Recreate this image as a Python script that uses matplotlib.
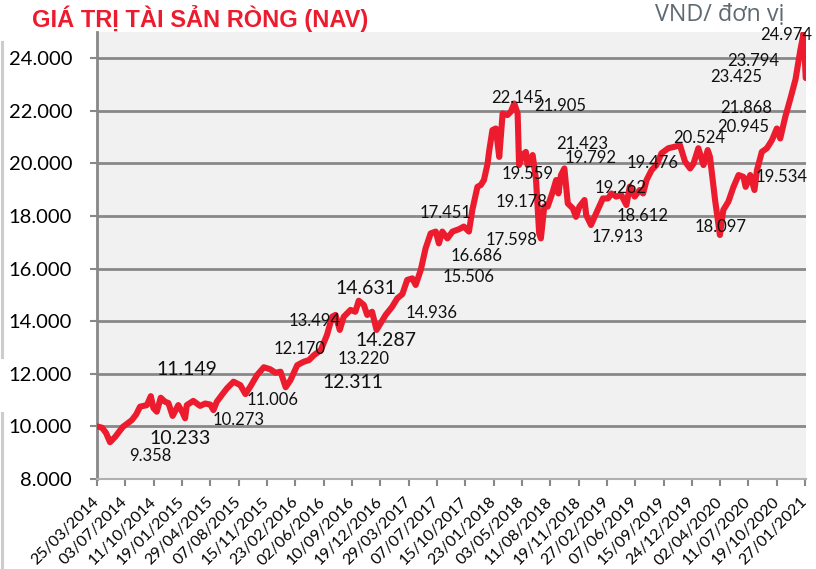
import matplotlib
matplotlib.use("Agg")
import matplotlib.pyplot as plt
import matplotlib.ticker as mticker
import pandas as pd
from matplotlib.lines import Line2D

# NAV mỗi chứng chỉ quỹ (VND)
nav_dates = [
    "2014-03-25", "2014-04-12", "2014-04-26", "2014-05-10", "2014-05-28", "2014-06-11", "2014-06-25", "2014-07-09", "2014-07-26", "2014-08-10",
    "2014-08-24", "2014-09-17", "2014-10-01", "2014-10-10", "2014-10-22", "2014-11-05", "2014-11-20", "2014-12-02", "2014-12-17", "2015-01-06",
    "2015-01-20", "2015-01-30", "2015-02-05", "2015-02-28", "2015-03-24", "2015-04-11", "2015-04-29", "2015-05-10", "2015-05-22", "2015-06-09",
    "2015-06-27", "2015-07-20", "2015-08-13", "2015-08-31", "2015-09-17", "2015-10-11", "2015-11-04", "2015-11-27", "2015-12-15", "2016-01-02",
    "2016-01-20", "2016-02-06", "2016-03-01", "2016-03-24", "2016-04-11", "2016-04-29", "2016-05-23", "2016-06-14", "2016-07-02", "2016-07-14",
    "2016-07-29", "2016-08-12", "2016-09-05", "2016-09-22", "2016-10-04", "2016-10-22", "2016-11-03", "2016-11-20", "2016-12-06", "2016-12-20",
    "2017-01-07", "2017-01-30", "2017-02-17", "2017-03-07", "2017-03-24", "2017-04-11", "2017-04-23", "2017-05-11", "2017-05-28", "2017-06-15",
    "2017-07-03", "2017-07-14", "2017-07-26", "2017-08-13", "2017-08-31", "2017-09-23", "2017-10-10", "2017-10-28", "2017-11-09", "2017-11-27",
    "2017-12-09", "2017-12-20", "2018-01-02", "2018-01-07", "2018-01-19", "2018-01-31", "2018-02-12", "2018-02-24", "2018-03-13", "2018-03-25",
    "2018-04-06", "2018-04-18", "2018-04-23", "2018-05-05", "2018-05-17", "2018-05-23", "2018-06-10", "2018-06-22", "2018-07-03", "2018-07-09",
    "2018-07-21", "2018-08-02", "2018-08-20", "2018-09-01", "2018-09-09", "2018-09-18", "2018-09-30", "2018-10-12", "2018-10-30", "2018-11-10",
    "2018-11-22", "2018-12-10", "2018-12-16", "2019-01-02", "2019-01-20", "2019-02-13", "2019-03-03", "2019-03-15", "2019-04-01", "2019-04-19",
    "2019-05-07", "2019-05-19", "2019-06-05", "2019-06-23", "2019-07-05", "2019-07-17", "2019-08-04", "2019-08-21", "2019-09-08", "2019-10-02",
    "2019-10-26", "2019-11-12", "2019-11-30", "2019-12-18", "2019-12-30", "2020-01-16", "2020-02-03", "2020-02-18", "2020-02-26", "2020-03-15",
    "2020-04-01", "2020-04-13", "2020-05-01", "2020-05-19", "2020-06-06", "2020-06-23", "2020-07-01", "2020-07-17", "2020-08-01", "2020-08-10",
    "2020-08-27", "2020-09-14", "2020-10-02", "2020-10-19", "2020-10-31", "2020-11-18", "2020-12-06", "2020-12-24", "2021-01-10", "2021-01-22",
    "2021-01-29",
]
nav_values = [
    10000, 9950, 9750, 9400, 9600, 9800, 9990, 10100, 10240, 10450,
    10750, 10810, 11150, 10700, 10560, 11090, 10940, 10890, 10400, 10810,
    10550, 10310, 10810, 10970, 10780, 10870, 10830, 10620, 10940, 11200,
    11450, 11700, 11570, 11230, 11510, 11950, 12250, 12170, 12040, 12080,
    11490, 11760, 12330, 12460, 12520, 12710, 12900, 13480, 14170, 14240,
    13670, 14170, 14430, 14360, 14780, 14620, 14240, 14360, 13670, 13920,
    14240, 14550, 14870, 15030, 15570, 15630, 15380, 15950, 16770, 17340,
    17410, 16960, 17410, 17150, 17410, 17500, 17600, 17410, 18230, 19110,
    19180, 19370, 20000, 20440, 21270, 21330, 20250, 21900, 21840, 21970,
    22280, 21900, 19940, 20320, 20440, 19940, 20320, 19370, 17340, 17150,
    18360, 18360, 18930, 19370, 18860, 19560, 19810, 18480, 18290, 17970,
    18360, 18610, 18040, 17660, 18100, 18670, 18670, 18860, 18740, 18800,
    18420, 19120, 18740, 18990, 18860, 19370, 19750, 19940, 20390, 20580,
    20640, 20700, 20070, 19810, 20000, 20580, 19940, 20510, 20250, 18610,
    17280, 18230, 18550, 19110, 19560, 19490, 19110, 19560, 18990, 19750,
    20440, 20580, 20890, 21330, 20950, 21780, 22470, 23200, 24310, 24970,
    23250,
]

tick_labels = [
    "25/03/2014", "03/07/2014", "11/10/2014", "19/01/2015", "29/04/2015", "07/08/2015",
    "15/11/2015", "23/02/2016", "02/06/2016", "10/09/2016", "19/12/2016", "29/03/2017",
    "07/07/2017", "15/10/2017", "23/01/2018", "03/05/2018", "11/08/2018", "19/11/2018",
    "27/02/2019", "07/06/2019", "15/09/2019", "24/12/2019", "02/04/2020", "11/07/2020",
    "19/10/2020", "27/01/2021",
]

# nhãn dữ liệu
label_texts = [
    "9.358", "10.233", "11.149", "10.273", "11.006", "12.170", "13.494", "12.311",
    "13.220", "14.287", "14.631", "14.936", "17.451", "16.686", "15.506", "17.598",
    "19.178", "19.559", "22.145", "21.905", "21.423", "19.792", "19.476", "19.262",
    "18.612", "17.913", "20.524", "18.097", "19.534", "21.868", "20.945", "24.974",
    "23.794", "23.425",
]
big_labels = {"10.233", "11.149", "12.311", "14.287", "14.631"}
# vị trí nhãn (phần trăm trục)
label_pos = [
    (0.075, 0.052), (0.117, 0.090), (0.127, 0.246), (0.200, 0.132), (0.247, 0.177),
    (0.286, 0.291), (0.307, 0.354), (0.361, 0.216), (0.376, 0.268), (0.407, 0.309),
    (0.379, 0.427), (0.472, 0.371), (0.492, 0.594), (0.536, 0.499), (0.524, 0.451),
    (0.585, 0.535), (0.599, 0.619), (0.608, 0.682), (0.592, 0.853), (0.653, 0.834),
    (0.685, 0.749), (0.696, 0.719), (0.784, 0.708), (0.739, 0.650), (0.770, 0.588),
    (0.734, 0.542), (0.849, 0.762), (0.879, 0.564), (0.966, 0.676), (0.915, 0.829),
    (0.912, 0.788), (0.972, 0.993), (0.926, 0.936), (0.901, 0.900),
]

RED = "#EC1C2E"
GRID = "#888888"

dates = pd.to_datetime(nav_dates)
ticks = pd.to_datetime(tick_labels, format="%d/%m/%Y")

fig = plt.figure(figsize=(8.16, 5.69), dpi=100, facecolor="white")
ax = fig.add_axes([97 / 816, 90 / 569, 709 / 816, 447 / 569])
ax.set_facecolor("#F0F1F0")

ax.plot(dates, nav_values, color=RED, lw=4.4, solid_joinstyle="round",
        solid_capstyle="round", zorder=3)

ax.set_ylim(8000, 25000)
ax.set_xlim(ticks[0], pd.Timestamp("2021-01-30"))
ax.set_yticks(range(8000, 25000, 2000))
ax.yaxis.set_major_formatter(mticker.FuncFormatter(lambda v, p: f"{int(v):,}".replace(",", ".")))
ax.set_xticks(ticks)
ax.set_xticklabels(tick_labels, rotation=45, ha="right", va="center",
                   rotation_mode="anchor", family="Lato", fontsize=11.5)
for t in ax.get_yticklabels():
    t.set_family("Lato")
    t.set_fontsize(14.5)

ax.tick_params(axis="y", direction="out", length=5, width=1.5, color=GRID, pad=13)
ax.tick_params(axis="x", direction="out", length=5, width=1.5, color=GRID, pad=10)

ax.grid(axis="y", color=GRID, lw=2)
ax.set_axisbelow(True)
for s in ["top", "right"]:
    ax.spines[s].set_visible(False)
ax.spines["left"].set_color(GRID)
ax.spines["left"].set_linewidth(2)
ax.spines["bottom"].set_color("#b0b0b0")
ax.spines["bottom"].set_linewidth(1.5)

for txt, (fx, fy) in zip(label_texts, label_pos):
    ax.text(fx, fy, txt, transform=ax.transAxes, ha="center", va="center",
            family="Lato", fontsize=14 if txt in big_labels else 12,
            color="#111111", zorder=4)

fig.text(32 / 816, 1 - 27 / 569, "GIÁ TRỊ TÀI SẢN RÒNG (NAV)", color=RED,
         family=["Liberation Sans", "DejaVu Sans"], fontweight="bold",
         fontsize=17, va="baseline", ha="left")
fig.text(655 / 816, 1 - 21 / 569, "VND/ đơn vị", color="#5E6A72",
         family=["Open Sans", "DejaVu Sans"], fontsize=16.8, va="baseline", ha="left")

# viền xám mảnh bên trái
fig.add_artist(Line2D([1.5 / 816, 1.5 / 816], [1 - 42 / 569, 1 - 357 / 569],
                      transform=fig.transFigure, color="#cccccc", lw=2.2))
fig.add_artist(Line2D([1.5 / 816, 1.5 / 816], [1 - 413 / 569, 0],
                      transform=fig.transFigure, color="#cccccc", lw=2.2))

fig.savefig("out.png", dpi=100)
